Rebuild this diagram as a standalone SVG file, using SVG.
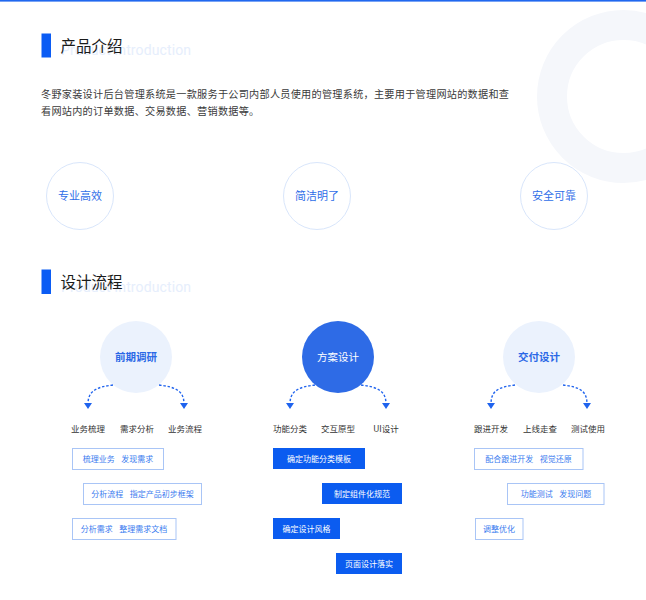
<svg xmlns="http://www.w3.org/2000/svg" width="646" height="600" viewBox="0 0 646 600">
<defs>
<style>
.cjk{font-family:"Noto Sans CJK SC","Noto Sans",sans-serif}
.title{font-size:15.5px;fill:#1a1a1a}
.wm{font-family:Roboto,"Liberation Sans",sans-serif;font-size:14px;fill:#e6eefc}
.bar{fill:#0b5cf4}
.para{font-size:10.15px;fill:#3a3a3a;letter-spacing:0.28px}
.feat{fill:#fff;stroke:#d9e6fb;stroke-width:1}
.featt{font-size:11px;fill:#2f6ee8;text-anchor:middle}
.big{fill:#ebf2fd}
.bigt{font-size:10.5px;font-weight:bold;fill:#2a68e6;text-anchor:middle}
.lbl{font-size:8.5px;fill:#333;text-anchor:middle}
.ob{fill:#fff;stroke:#a9c5f6;stroke-width:1}
.obt{font-size:8px;fill:#3b7cef;text-anchor:middle;white-space:pre;word-spacing:1.5px}
.fb{fill:#0b5cf0}
.fbt{font-size:8px;fill:#fff;text-anchor:middle}
.dash{fill:none;stroke:#1f63ee;stroke-width:1.4;stroke-dasharray:2.5 1.8}
</style>
<marker id="ah" markerWidth="8" markerHeight="7" refX="4" refY="1" orient="0" markerUnits="userSpaceOnUse" viewBox="0 0 8 7">
<path d="M0,0 L8,0 L4,6 Z" fill="#1f63ee"/>
</marker>
</defs>
<rect width="646" height="600" fill="#fff"/>
<rect x="0" y="0" width="646" height="1.6" fill="#2068ef"/>
<circle cx="623.5" cy="96.5" r="71.5" fill="none" stroke="#f5f7fb" stroke-width="30"/>

<g id="section1-header">
<rect class="bar" x="41.5" y="33.5" width="9.5" height="24"/>
<text class="wm" x="61" y="55" textLength="130">Product Introduction</text>
<text class="cjk title" x="60.5" y="51.5">产品介绍</text>
</g>
<g id="intro-text" class="cjk para">
<text x="41" y="97.5">冬野家装设计后台管理系统是一款服务于公司内部人员使用的管理系统，主要用于管理网站的数据和查</text>
<text x="41" y="114.5">看网站内的订单数据、交易数据、营销数据等。</text>
</g>
<g id="feat-1"><circle class="feat" cx="80" cy="196" r="33.5"/><text class="cjk featt" x="80" y="200">专业高效</text></g>
<g id="feat-2"><circle class="feat" cx="317" cy="196" r="33.5"/><text class="cjk featt" x="317" y="200">简洁明了</text></g>
<g id="feat-3"><circle class="feat" cx="554" cy="196" r="33.5"/><text class="cjk featt" x="554" y="200">安全可靠</text></g>

<g id="section2-header">
<rect class="bar" x="41.5" y="269.5" width="9.5" height="24.5"/>
<text class="wm" x="61" y="291.5" textLength="130">Product Introduction</text>
<text class="cjk title" x="60.5" y="288">设计流程</text>
</g>

<g id="stage-1"><circle class="big" cx="136" cy="357" r="36"/><text class="cjk bigt" x="136" y="361">前期调研</text></g>
<g id="stage-2"><circle cx="338" cy="357" r="36" fill="#2e6be6"/><text class="cjk bigt" x="338" y="361" style="fill:#fff;font-weight:normal">方案设计</text></g>
<g id="stage-3"><circle class="big" cx="539" cy="357" r="36"/><text class="cjk bigt" x="539" y="361">交付设计</text></g>

<g id="connectors">
<path class="dash" d="M113,385 C96,387 88,391 88,404" marker-end="url(#ah)"/>
<path class="dash" d="M159,385 C176,387 184,391 184,404" marker-end="url(#ah)"/>
<path class="dash" d="M315,385 C298,387 290,391 290,404" marker-end="url(#ah)"/>
<path class="dash" d="M361,385 C378,387 386,391 386,404" marker-end="url(#ah)"/>
<path class="dash" d="M515,385 C498,387 491,391 491,404" marker-end="url(#ah)"/>
<path class="dash" d="M563,385 C580,387 587,391 587,404" marker-end="url(#ah)"/>
</g>

<g id="labels" class="cjk lbl">
<text x="88" y="432">业务梳理</text>
<text x="137" y="432">需求分析</text>
<text x="185" y="432">业务流程</text>
<text x="290" y="432">功能分类</text>
<text x="338" y="432">交互原型</text>
<text x="386" y="432">UI设计</text>
<text x="491" y="432">跟进开发</text>
<text x="540" y="432">上线走查</text>
<text x="588" y="432">测试使用</text>
</g>

<g id="box-1-1"><rect class="ob" x="72.5" y="448.5" width="91" height="21"/><text class="cjk obt" x="118" y="461.8" xml:space="preserve">梳理业务  发现需求</text></g>
<g id="box-1-2"><rect class="ob" x="83.5" y="483.5" width="118" height="21"/><text class="cjk obt" x="142.5" y="496.8" xml:space="preserve">分析流程  指定产品初步框架</text></g>
<g id="box-1-3"><rect class="ob" x="72.5" y="518.5" width="103.5" height="21"/><text class="cjk obt" x="124" y="531.8" xml:space="preserve">分析需求  整理需求文档</text></g>

<g id="box-2-1"><rect class="fb" x="273" y="448" width="92" height="21"/><text class="cjk fbt" x="319" y="461.5">确定功能分类模板</text></g>
<g id="box-2-2"><rect class="fb" x="322" y="483" width="80" height="21"/><text class="cjk fbt" x="362" y="496.5">制定组件化规范</text></g>
<g id="box-2-3"><rect class="fb" x="273" y="518" width="67" height="21"/><text class="cjk fbt" x="306.5" y="531.5">确定设计风格</text></g>
<g id="box-2-4"><rect class="fb" x="336" y="553" width="66" height="21"/><text class="cjk fbt" x="369" y="566.5">页面设计落实</text></g>

<g id="box-3-1"><rect class="ob" x="474.5" y="448.5" width="108.5" height="21"/><text class="cjk obt" x="528.5" y="461.8" xml:space="preserve">配合跟进开发  视觉还原</text></g>
<g id="box-3-2"><rect class="ob" x="507.5" y="483.5" width="96.5" height="21"/><text class="cjk obt" x="556" y="496.8" xml:space="preserve">功能测试  发现问题</text></g>
<g id="box-3-3"><rect class="ob" x="475.5" y="518.5" width="47.5" height="21"/><text class="cjk obt" x="499" y="531.8">调整优化</text></g>
</svg>
